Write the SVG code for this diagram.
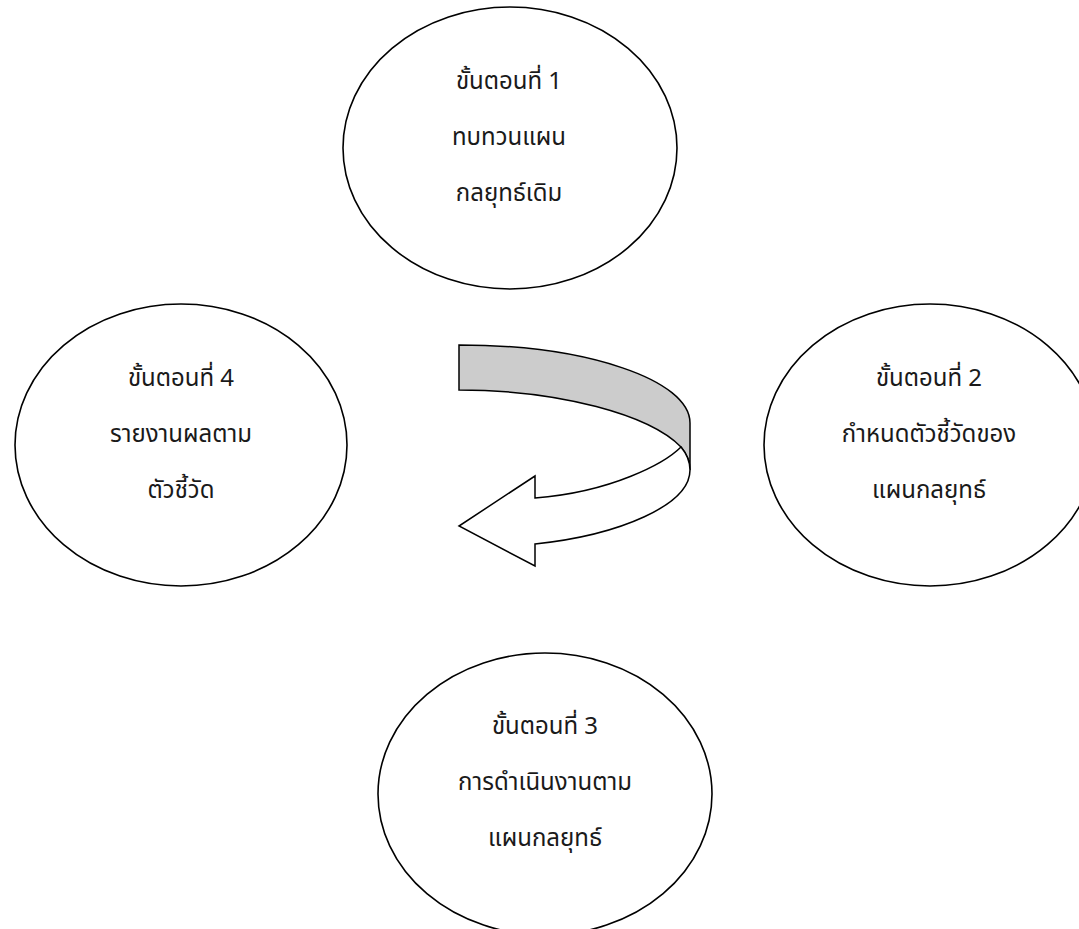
<svg xmlns="http://www.w3.org/2000/svg" width="1079" height="929" viewBox="0 0 1079 929">
<style>
.node ellipse{fill:#fff;stroke:#000;stroke-width:1.6}
.node text{font-family:"Noto Sans Thai","Leelawadee UI",Tahoma,"Noto Sans","DejaVu Sans",sans-serif;font-size:24px;fill:#1a1a1a;text-anchor:middle}
.arrow path{stroke:#000;stroke-width:1.5;stroke-linejoin:miter}
</style>
<rect width="1079" height="929" fill="#fff"/>
<g id="step1" class="node">
<ellipse cx="510" cy="148" rx="167" ry="141"/>
<text x="509" y="89">ขั้นตอนที่ 1</text>
<text x="509" y="145">ทบทวนแผน</text>
<text x="509" y="201">กลยุทธ์เดิม</text>
</g>
<g id="step2" class="node">
<ellipse cx="930" cy="445" rx="166" ry="141"/>
<text x="929" y="386">ขั้นตอนที่ 2</text>
<text x="929" y="442">กำหนดตัวชี้วัดของ</text>
<text x="929" y="498">แผนกลยุทธ์</text>
</g>
<g id="step3" class="node">
<ellipse cx="545" cy="794" rx="167" ry="141"/>
<text x="545" y="734">ขั้นตอนที่ 3</text>
<text x="545" y="790">การดำเนินงานตาม</text>
<text x="545" y="846">แผนกลยุทธ์</text>
</g>
<g id="step4" class="node">
<ellipse cx="181" cy="445" rx="166" ry="141"/>
<text x="181" y="386">ขั้นตอนที่ 4</text>
<text x="181" y="442">รายงานผลตาม</text>
<text x="181" y="498">ตัวชี้วัด</text>
</g>
<g id="connectors" class="arrow">
<path fill="#cccccc" d="M459,345 C587,345 690,380 690,423 L690,470 C690,462 686,453 681,447 C650,415 560,390 459,390 Z"/>
<path fill="#fff" d="M681,447 C665,463 612,492 535,498 L535,476 L459,526 L535,566 L535,544 C620,535 690,505 690,470 C690,462 686,453 681,447 Z"/>
</g>
</svg>
